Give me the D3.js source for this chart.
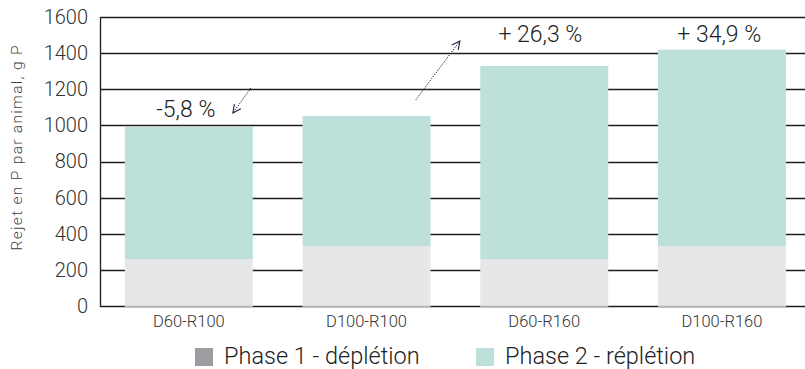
<!DOCTYPE html>
<html><head><meta charset="utf-8">
<script src="https://cdn.jsdelivr.net/npm/d3@7"></script>
<style>
html,body{margin:0;padding:0;background:#fff;}
svg text{font-family:Roboto, "Noto Sans", sans-serif;}
</style></head>
<body><svg id="c" width="805" height="369"></svg>
<script>
const categories = ["D60-R100","D100-R100","D60-R160","D100-R160"];
const phase1 = [260, 332, 260, 332];
const phase2 = [731, 720, 1069, 1087];
const yTicks = [0,200,400,600,800,1000,1200,1400,1600];
const seriesNames = ["Phase 1 - déplétion","Phase 2 - réplétion"];
const pctLabels = ["-5,8 %", "", "+ 26,3 %", "+ 34,9 %"];
const pctLabelValue = [1045, null, 1460, 1460];
const pctLabelShift = [-0.017, 0, -0.022, -0.015];
// arrows: [fromIndex, fromValue, toIndex, toValue]
const arrows = [[1.277,1141,1.525,1467],[0.349,1207,0.248,1069]];

(function(){
const svg = d3.select("#c");
const mLeft=100, mRight=805, mTop=17, mBottom=306;
const FW = 300;
const x = d3.scaleBand().domain(categories).range([mLeft, mLeft+4*177.7]).paddingInner(0.28).paddingOuter(0.14);
const y = d3.scaleLinear().domain([0,1600]).range([mBottom, mTop]);
const xi = d3.scaleLinear().domain([0,1]).range([x(categories[0])+x.bandwidth()/2, x(categories[1])+x.bandwidth()/2]);
const colors = ["#e6e7e8","#bde1da"];
const legendColors = ["#9d9da1","#bde1da"];

// gridlines
svg.append("g").selectAll("line").data(yTicks).join("line")
  .attr("x1", mLeft).attr("x2", mRight)
  .attr("y1", d=>Math.round(y(d))+0.5).attr("y2", d=>Math.round(y(d))+0.5)
  .attr("stroke", "#1e1e1e").attr("stroke-width", 1.3);

// bars
const stacked = categories.map((c,i)=>({c, p1:phase1[i], p2:phase2[i]}));
const g = svg.append("g");
g.selectAll(".b1").data(stacked).join("rect").attr("class","b1")
  .attr("x", d=>x(d.c)).attr("width", x.bandwidth())
  .attr("y", d=>y(d.p1)).attr("height", d=>y(0)-y(d.p1)+0.5)
  .attr("fill", colors[0]);
g.selectAll(".b2").data(stacked).join("rect").attr("class","b2")
  .attr("x", d=>x(d.c)).attr("width", x.bandwidth())
  .attr("y", d=>y(d.p1+d.p2)).attr("height", d=>y(d.p1)-y(d.p1+d.p2))
  .attr("fill", colors[1]);
g.selectAll(".bl").data(stacked).join("line").attr("class","bl")
  .attr("x1", d=>x(d.c)).attr("x2", d=>x(d.c)+x.bandwidth())
  .attr("y1", Math.round(y(0))+0.5).attr("y2", Math.round(y(0))+0.5)
  .attr("stroke", "#b5b5b8").attr("stroke-width", 1.3);

// y axis line
svg.append("line").attr("x1", mLeft+0.5).attr("x2", mLeft+0.5)
  .attr("y1", Math.round(y(1600))).attr("y2", Math.round(y(0))+1)
  .attr("stroke", "#1e1e1e").attr("stroke-width", 1.3);

// y tick labels
const yAxis = d3.axisLeft(y).tickValues(yTicks).tickFormat(d3.format("d")).tickSize(0).tickPadding(12);
const ya = svg.append("g").attr("transform", `translate(${mLeft},0)`).call(yAxis);
ya.attr("font-family", null).attr("font-size", null);
ya.select(".domain").remove();
ya.selectAll("text").attr("font-size", 20).attr("fill", "#333").attr("font-weight", FW);

// x labels
const xAxis = d3.axisBottom(x).tickSize(0).tickPadding(9);
const xa = svg.append("g").attr("transform", `translate(0,${mBottom})`).call(xAxis);
xa.attr("font-family", null).attr("font-size", null);
xa.select(".domain").remove();
xa.selectAll("text").attr("font-size", 16.5).attr("fill", "#333").attr("font-weight", FW);

// y title
svg.append("text").attr("transform", `translate(22,148) rotate(-90)`)
  .attr("text-anchor","middle").attr("font-size", 15.5).attr("fill","#444").attr("font-weight", FW)
  .attr("textLength", 205).attr("lengthAdjust","spacing")
  .text("Rejet en P par animal, g P");

// pct labels
svg.append("g").selectAll("text").data(categories.map((c,i)=>({c,i,t:pctLabels[i],v:pctLabelValue[i]})).filter(d=>d.t))
  .join("text")
  .attr("x", d=>xi(d.i+pctLabelShift[d.i])).attr("y", d=>y(d.v))
  .attr("text-anchor","middle").attr("font-size", 23).attr("fill","#222").attr("font-weight", FW)
  .text(d=>d.t);

// arrows
svg.append("defs").append("marker").attr("id","ah").attr("viewBox","0 0 10 10")
  .attr("refX",9).attr("refY",5).attr("markerWidth",10).attr("markerHeight",10)
  .attr("markerUnits","userSpaceOnUse").attr("orient","auto")
  .append("path").attr("d","M1,1 L9,5 L1,9").attr("fill","none").attr("stroke","#1c2440").attr("stroke-width",1.1);
svg.append("g").selectAll("line").data(arrows).join("line")
  .attr("x1", d=>xi(d[0])).attr("y1", d=>y(d[1]))
  .attr("x2", d=>xi(d[2])).attr("y2", d=>y(d[3]))
  .attr("stroke","#1c2440").attr("stroke-width",1).attr("stroke-dasharray","1.3,1.3")
  .attr("marker-end","url(#ah)");

// legend
const legX = [195, 476];
const leg = svg.append("g").selectAll("g").data(seriesNames).join("g")
  .attr("transform",(d,i)=>`translate(${legX[i]},348)`);
leg.append("rect").attr("width",18).attr("height",18).attr("fill",(d,i)=>legendColors[i]);
leg.append("text").attr("x",29).attr("y",16).attr("font-size",23.5).attr("fill","#222").attr("font-weight", FW).text(d=>d);
})();
</script></body></html>
